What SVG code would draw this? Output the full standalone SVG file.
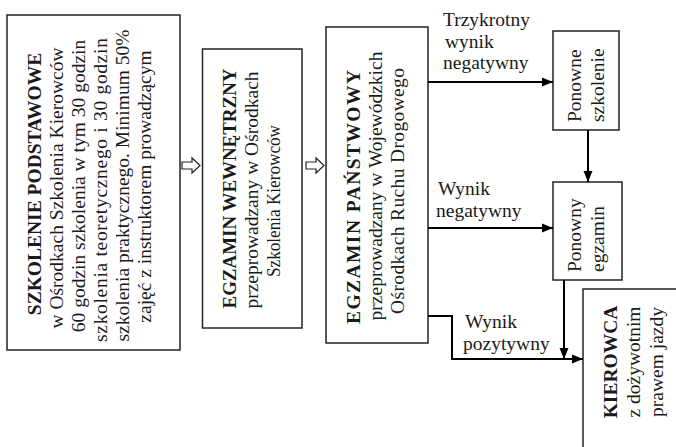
<svg xmlns="http://www.w3.org/2000/svg" width="676" height="447" viewBox="0 0 676 447">
<style>
.box{fill:#fff;stroke:#222;stroke-width:1.5}
.t{font-family:"Liberation Serif","Times New Roman",serif;font-size:19.5px;fill:#1a1a1a}
.b{font-weight:bold}
.m{text-anchor:middle}
.c{fill:none;stroke:#000;stroke-width:2}
.h{fill:#fff;stroke:#222;stroke-width:1.2}
</style>
<defs>
<marker id="ah" markerUnits="userSpaceOnUse" markerWidth="12" markerHeight="10" refX="11" refY="5" orient="auto">
<path d="M0,0.5 L11,5 L0,9.5 z" fill="#000"/>
</marker>
</defs>
<rect width="676" height="447" fill="#fff"/>
<g id="szkolenie">
<rect class="box" x="7" y="15" width="173" height="335"/>
<g class="t m">
<text class="b" transform="translate(41,184) rotate(-90)">SZKOLENIE PODSTAWOWE</text>
<text transform="translate(63,188) rotate(-90)">w Ośrodkach Szkolenia Kierowców</text>
<text transform="translate(85,186) rotate(-90)">60 godzin szkolenia w tym 30 godzin</text>
<text transform="translate(107,190) rotate(-90)" textLength="304" lengthAdjust="spacing">szkolenia teoretycznego i 30 godzin</text>
<text transform="translate(129,185.5) rotate(-90)">szkolenia praktycznego. Minimum 50%</text>
<text transform="translate(150.5,186.5) rotate(-90)">zajęć z instruktorem prowadzącym</text>
</g>
</g>
<g id="egzamin-wewnetrzny">
<rect class="box" x="202.5" y="49" width="99.5" height="279"/>
<g class="t m">
<text class="b" transform="translate(236,188.5) rotate(-90)" textLength="240" lengthAdjust="spacingAndGlyphs">EGZAMIN WEWNĘTRZNY</text>
<text transform="translate(258,190) rotate(-90)">przeprowadzany w Ośrodkach</text>
<text transform="translate(280,201) rotate(-90)" textLength="152" lengthAdjust="spacingAndGlyphs">Szkolenia Kierowców</text>
</g>
</g>
<g id="egzamin-panstwowy">
<rect class="box" x="326" y="27" width="102" height="316"/>
<g class="t m">
<text class="b" transform="translate(360,197) rotate(-90)" textLength="254" lengthAdjust="spacing">EGZAMIN PAŃSTWOWY</text>
<text transform="translate(382,186) rotate(-90)">przeprowadzany w Wojewódzkich</text>
<text transform="translate(404,191) rotate(-90)" textLength="246" lengthAdjust="spacing">Ośrodkach Ruchu Drogowego</text>
</g>
</g>
<g id="ponowne-szkolenie">
<rect class="box" x="553" y="31" width="66" height="99"/>
<g class="t">
<text transform="translate(581,122) rotate(-90)">Ponowne</text>
<text transform="translate(604,122) rotate(-90)">szkolenie</text>
</g>
</g>
<g id="ponowny-egzamin">
<rect class="box" x="553" y="182" width="69" height="98"/>
<g class="t">
<text transform="translate(581,272) rotate(-90)">Ponowny</text>
<text transform="translate(604,272) rotate(-90)">egzamin</text>
</g>
</g>
<g id="kierowca">
<rect class="box" x="583" y="289" width="110" height="180"/>
<g class="t m" transform="translate(0,362)">
<text class="b" transform="translate(617,0) rotate(-90)">KIEROWCA</text>
<text transform="translate(640,0) rotate(-90)">z dożywotnim</text>
<text transform="translate(663,0) rotate(-90)">prawem jazdy</text>
</g>
</g>
<g id="connectors">
<path class="h" d="M182,162 h10 v-4 l8,7.5 l-8,7.5 v-4 h-10 z"/>
<path class="h" d="M306,162 h10 v-4 l8,7.5 l-8,7.5 v-4 h-10 z"/>
<path class="c" d="M428,82 H553" marker-end="url(#ah)"/>
<path class="c" d="M428,228 H553" marker-end="url(#ah)"/>
<path class="c" d="M428,316 H452 V359 H583" marker-end="url(#ah)"/>
<path class="c" d="M588,130 V182" marker-end="url(#ah)"/>
<path class="c" d="M564,280 V359" marker-end="url(#ah)"/>
<g class="t">
<text x="443" y="26">Trzykrotny</text>
<text x="445" y="47.5">wynik</text>
<text x="443" y="69">negatywny</text>
<text x="438" y="195">Wynik</text>
<text x="436" y="216.5">negatywny</text>
<text x="465" y="328">Wynik</text>
<text x="463" y="349.5">pozytywny</text>
</g>
</g>
</svg>
